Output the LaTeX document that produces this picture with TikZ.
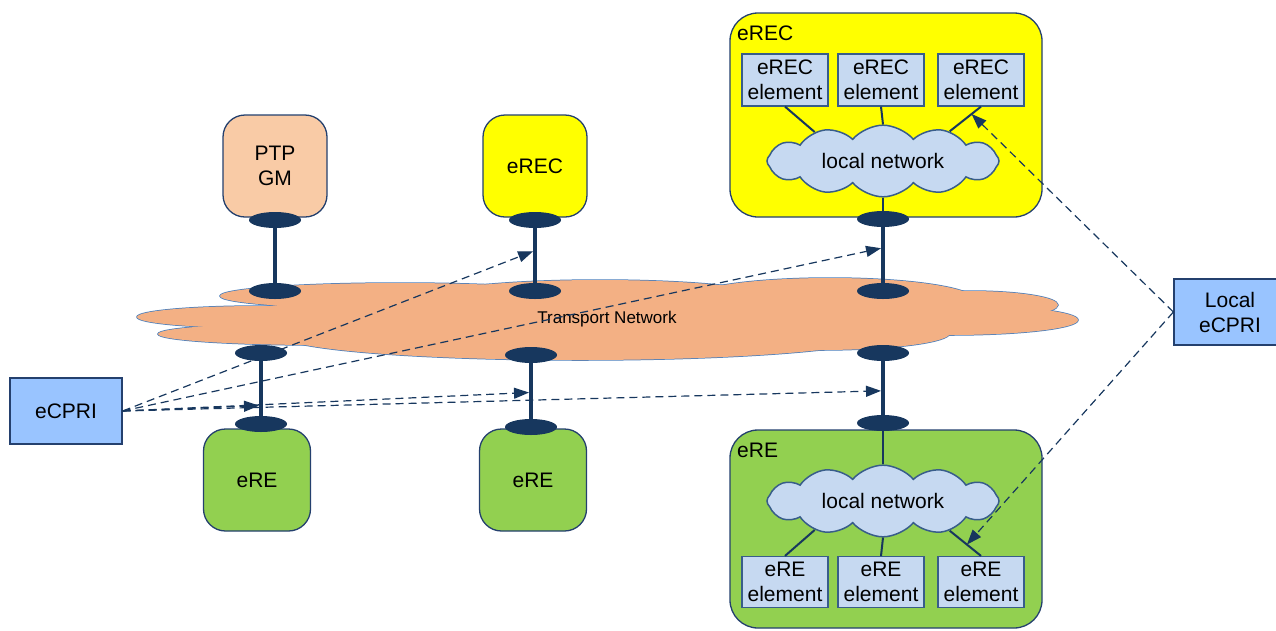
\documentclass[tikz,border=0pt]{standalone}
\usepackage{fontspec}
\setmainfont{Liberation Sans}
\usetikzlibrary{shapes.symbols,shapes.geometric,arrows.meta,calc}
\definecolor{navy}{HTML}{17375E}
\definecolor{bord}{HTML}{24406E}
\definecolor{peach}{HTML}{F9CBA6}
\definecolor{tnet}{HTML}{F3B084}
\definecolor{tnetb}{HTML}{4A7EBB}
\definecolor{ylw}{HTML}{FFFF00}
\definecolor{grn}{HTML}{92D050}
\definecolor{elem}{HTML}{C6D9F1}
\definecolor{elemb}{HTML}{385D8A}
\definecolor{cpri}{HTML}{99C4FF}
\begin{document}
\begin{tikzpicture}[x=1pt,y=-1pt,
  txt/.style={font=\fontsize{21}{25}\selectfont},
  rbox/.style={txt, draw=bord, line width=1.3pt, rounded corners=22pt, minimum width=104pt, minimum height=102pt, align=center, inner sep=0},
  bigbox/.style={draw=bord, line width=1.3pt, rounded corners=28pt, minimum width=312pt, inner sep=0},
  port/.style={ellipse, fill=navy, minimum width=52pt, minimum height=16pt, inner sep=0},
  link/.style={navy, line width=4pt},
  thinlink/.style={navy, line width=2pt},
  elbox/.style={txt, draw=elemb, fill=elem, line width=1.2pt, minimum width=86pt, minimum height=52pt, align=center, inner sep=0},
  lnet/.style={txt, cloud, cloud puffs=12, cloud puff arc=100, aspect=3.3, draw=elemb, fill=elem, line width=1.5pt, minimum width=232pt, minimum height=68pt, inner sep=0},
  sig/.style={navy, dash pattern=on 8pt off 5pt, line width=1.2pt, -{Triangle[length=15pt,width=11pt]}},
  cpribox/.style={txt, draw=bord, fill=cpri, line width=1.2pt, minimum width=112pt, minimum height=66pt, align=center, inner sep=0}
]
\useasboundingbox (0,0) rectangle (1276,630);

% transport network cloud
\def\lobes{260/317/123/11, 320/334/162/11, 400/296/180/13, 600/300/180/20, 580/335/300/25, 830/300/145/22, 970/305/88/14, 950/320/128/15, 820/333/130/17, 600/320/380/28}
\foreach \cx/\cy/\rx/\ry in \lobes
  {\draw[tnetb, line width=1.5pt, fill=tnet] (\cx,\cy) ellipse [x radius=\rx pt, y radius=\ry pt];}
\foreach \cx/\cy/\rx/\ry in \lobes
  {\fill[tnet] (\cx,\cy) ellipse [x radius=\rx pt, y radius=\ry pt];}
\node[font=\fontsize{17}{20}\selectfont, inner sep=0] (tnlabel) at (607,319) {Transport Network};

% small boxes
\node[rbox, fill=peach] (ptp) at (275,166) {PTP\\GM};
\node[rbox, fill=ylw] (erec) at (535,166) {eREC};
\node[rbox, fill=grn, minimum width=107pt] (ere1) at (257,480) {eRE};
\node[rbox, fill=grn, minimum width=107pt] (ere2) at (533,480) {eRE};

% big eREC
\node[bigbox, fill=ylw, minimum height=204pt] (bigerec) at (886,115) {};
\node[txt, anchor=base west, inner sep=0] (lblerec) at (737,40) {eREC};
\node[elbox] (el1) at (785,80) {eREC\\element};
\node[elbox] (el2) at (881,80) {eREC\\element};
\node[elbox] (el3) at (981,80) {eREC\\element};
\node[lnet] (ln1) at (883,161) {local network};
\draw[thinlink] (el1.south) -- (ln1.157);
\draw[thinlink] (el2.south) -- (ln1.north);
\draw[thinlink] (el3.south) -- (ln1.24);

% big eRE
\node[bigbox, fill=grn, minimum height=198pt] (bigere) at (886,529) {};
\node[txt, anchor=base west, inner sep=0] (lblere) at (737,457) {eRE};
\node[elbox, minimum height=51pt] (el4) at (785,582) {eRE\\element};
\node[elbox, minimum height=51pt] (el5) at (881,582) {eRE\\element};
\node[elbox, minimum height=51pt] (el6) at (981,582) {eRE\\element};
\node[lnet] (ln2) at (883,501) {local network};
\draw[thinlink] (ln2.203) -- (el4.north);
\draw[thinlink] (ln2.south) -- (el5.north);
\draw[thinlink] (ln2.336) -- (el6.north);

% port positions
\coordinate (cPtp) at (275,220);
\coordinate (cErec) at (535,220);
\coordinate (cBig) at (883,219);
\coordinate (ctA) at (275,291);
\coordinate (ctB) at (535,291);
\coordinate (ctC) at (883,291);
\coordinate (cbA) at (261,353);
\coordinate (cbB) at (531,355);
\coordinate (cbC) at (883,353);
\coordinate (crA) at (261,424);
\coordinate (crB) at (531,427);
\coordinate (crC) at (883,423);

\draw[link] (cPtp) -- (ctA);
\draw[link] (cErec) -- (ctB);
\draw[link] (cBig) -- (ctC);
\draw[link] (cbA) -- (crA);
\draw[link] (cbB) -- (crB);
\draw[link] (cbC) -- (crC);
\draw[thinlink] (ln1.south) -- (cBig);
\draw[thinlink] (crC) -- (ln2.north);

\foreach \p in {Ptp,Erec,Big,tA,tB,tC,bA,bB,bC,rA,rB,rC}
  {\node[port] (p\p) at (c\p) {};}

% eCPRI
\node[cpribox] (ecpri) at (66,411) {eCPRI};
\node[cpribox] (lecpri) at (1230,312) {Local\\eCPRI};

\coordinate (a1) at ($(cErec)!0.43!(ctB)$);
\coordinate (a2) at ($(cBig)!0.40!(ctC)$);
\coordinate (a3) at ($(cbA)!0.74!(crA)$);
\coordinate (a4) at ($(cbB)!0.52!(crB)$);
\coordinate (a5) at ($(cbC)!0.54!(crC)$);
\coordinate (b1) at ($(el3.south)!0.3!(ln1.24)$);
\coordinate (b2) at ($(ln2.336)!0.55!(el6.north)$);

\foreach \t in {a1,a2,a3,a4,a5}
  {\draw[sig, shorten >=2pt] (ecpri.east) -- (\t);}
\draw[sig] (lecpri.west) -- (b1);
\draw[sig] (lecpri.west) -- (b2);
\end{tikzpicture}
\end{document}
